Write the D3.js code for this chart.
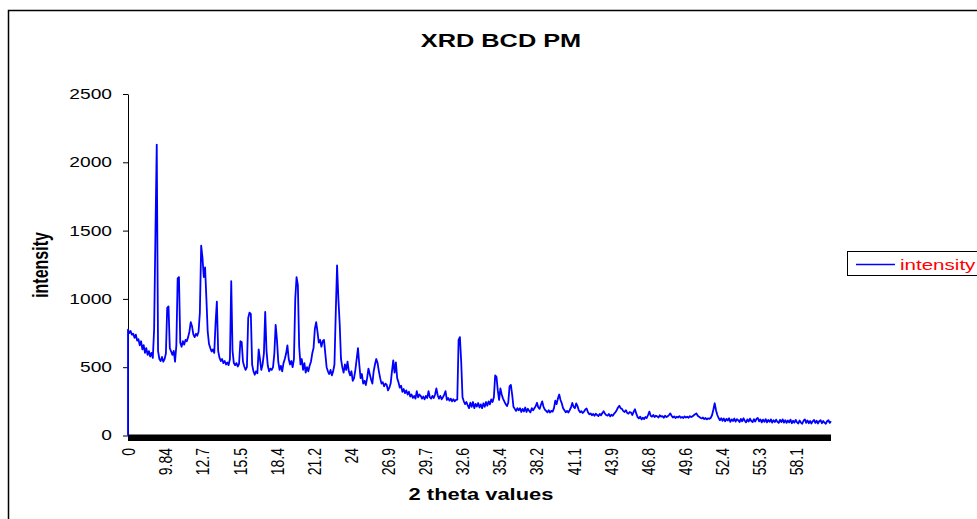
<!DOCTYPE html>
<html>
<head>
<meta charset="utf-8">
<script src="https://cdn.jsdelivr.net/npm/d3@7"></script>
<style>
  body { margin: 0; background: #fff; }
  svg { display: block; font-family: "Liberation Sans", Arial, sans-serif; }
</style>
</head>
<body>
<svg id="chart" width="977" height="519"></svg>
<script>
// Powder pattern of the BCD physical mixture, 2-theta scan in 0.1 degree steps.
const scanStart = 7.0;
const scanStep = 0.1;
// The exported sheet begins with a "0" row holding zero counts.
const leadRow = { label: "0", counts: 0 };

const intensity = [
  775, 750, 765, 738, 745, 715, 738, 695, 705, 660,     // 7.0
  690, 630, 662, 605, 640, 590, 618, 578, 605, 568,     // 8.0
  780, 1480, 2130, 620, 560, 545, 575, 540, 560, 600,   // 9.0
  935, 945, 640, 615, 590, 620, 540, 660, 1150, 1160,   // 10.0
  680, 650, 690, 665, 700, 690, 720, 760, 830, 800,     // 11.0
  740, 720, 745, 730, 760, 900, 1390, 1300, 1160, 1230, // 12.0
  1000, 760, 670, 640, 615, 630, 605, 820, 980, 620,    // 13.0
  570, 545, 560, 530, 545, 520, 535, 515, 560, 1130,    // 14.0
  620, 530, 515, 530, 505, 525, 690, 685, 540, 505,     // 15.0
  480, 500, 860, 900, 890, 520, 470, 445, 470, 455,     // 16.0
  630, 560, 480, 520, 600, 905, 620, 510, 470, 490,     // 17.0
  480, 500, 600, 810, 700, 540, 480, 510, 470, 530,     // 18.0
  560, 600, 660, 560, 520, 545, 500, 560, 1000, 1160,   // 19.0
  1100, 650, 520, 560, 480, 530, 460, 500, 470, 510,    // 20.0
  540, 600, 640, 780, 830, 760, 680, 700, 650, 690,     // 21.0
  700, 600, 500, 470, 450, 480, 440, 470, 520, 900,     // 22.0
  1245, 1000, 820, 560, 500, 460, 520, 480, 540, 470,   // 23.0
  440, 470, 400, 420, 480, 560, 640, 520, 420, 450,     // 24.0
  380, 400, 370, 420, 490, 450, 410, 380, 470, 520,     // 25.0
  560, 530, 470, 420, 380, 390, 360, 380, 370, 330,     // 26.0
  350, 380, 470, 550, 460, 535, 420, 390, 350, 365,     // 27.0
  320, 340, 310, 330, 300, 320, 285, 300, 275, 290,     // 28.0
  270, 325, 280, 300, 290, 270, 285, 265, 290, 275,     // 29.0
  325, 280, 270, 290, 275, 300, 345, 295, 270, 290,     // 30.0
  265, 280, 300, 325, 260, 275, 255, 270, 250, 265,     // 31.0
  250, 260, 262, 700, 720, 540, 280, 250, 230, 245,     // 32.0
  220, 200, 240, 210, 245, 200, 232, 212, 238, 205,     // 33.0
  228, 200, 236, 210, 245, 218, 250, 228, 265, 245,     // 34.0
  280, 440, 430, 330, 260, 345, 300, 270, 250, 230,     // 35.0
  215, 240, 360, 370, 300, 210, 195, 180, 200, 185,     // 36.0
  200, 172, 195, 176, 205, 172, 196, 180, 170, 200,     // 37.0
  185, 200, 215, 240, 205, 195, 225, 250, 210, 190,     // 38.0
  180, 170, 185, 168, 180, 175, 200, 255, 230, 270,     // 39.0
  300, 260, 235, 200, 185, 170, 180, 168, 185, 205,     // 40.0
  238, 210, 200, 235, 215, 185, 170, 178, 165, 175,     // 41.0
  190, 198, 170, 155, 162, 148, 158, 145, 160, 150,     // 42.0
  142, 158, 148, 165, 178, 160, 150, 145, 158, 140,     // 43.0
  152, 145, 160, 170, 185, 205, 218, 200, 195, 180,     // 44.0
  172, 185, 165, 160, 172, 168, 150, 175, 192, 160,     // 45.0
  135, 125, 138, 118, 130, 120, 135, 128, 150, 175,     // 46.0
  145, 138, 150, 135, 145, 140, 132, 148, 138, 142,     // 47.0
  130, 145, 135, 140, 150, 162, 145, 132, 140, 128,     // 48.0
  138, 132, 142, 130, 136, 128, 140, 132, 138, 130,     // 49.0
  142, 135, 140, 148, 155, 162, 145, 138, 130, 125,     // 50.0
  132, 120, 128, 118, 126, 122, 130, 150, 190, 236,     // 51.0
  185, 150, 128, 112, 126, 108, 124, 104, 122, 110,     // 52.0
  126, 100, 118, 106, 124, 102, 120, 112, 98, 122,      // 53.0
  104, 126, 108, 96, 118, 102, 124, 106, 98, 120,       // 54.0
  102, 122, 128, 104, 118, 96, 116, 100, 120, 96,       // 55.0
  114, 100, 118, 94, 112, 98, 116, 100, 92, 114,        // 56.0
  98, 118, 94, 112, 92, 110, 96, 116, 90, 108,          // 57.0
  94, 114, 96, 88, 110, 94, 86, 108, 118, 92,           // 58.0
  110, 90, 106, 88, 104, 114, 92, 108, 88, 104,         // 59.0
  112, 90, 106, 94, 86, 104, 112, 92, 104               // 60.0
];

const yTicks = [0, 500, 1000, 1500, 2000, 2500];
const xTickAngles = [7.0, 9.84, 12.68, 15.52, 18.36, 21.2, 24.04, 26.88, 29.72,
                     32.56, 35.4, 38.24, 41.08, 43.92, 46.76, 49.6, 52.44, 55.28, 58.12];
const xTickLabels = ["0", "9.84", "12.7", "15.5", "18.4", "21.2", "24", "26.9", "29.7",
                     "32.6", "35.4", "38.2", "41.1", "43.9", "46.8", "49.6", "52.4", "55.3", "58.1"];

const titleText = "XRD BCD PM";
const xTitle = "2 theta values";
const yTitle = "intensity";
const seriesName = "intensity";

// ---- layout ----
const plot = { left: 128, right: 831, top: 94, bottom: 435.5 };
const sx = 1.37; // horizontal glyph widening used throughout the sheet

const svg = d3.select("#chart");

const points = [{ angle: scanStart, counts: leadRow.counts }]
  .concat(intensity.map((v, i) => ({ angle: scanStart + i * scanStep, counts: v })));

const x = d3.scaleLinear()
  .domain([scanStart, scanStart + (intensity.length - 1) * scanStep])
  .range([plot.left, plot.right]);
const y = d3.scaleLinear().domain([0, 2500]).range([plot.bottom, plot.top]);

// outer frame
svg.append("rect")
  .attr("x", 8.5).attr("y", 10.5).attr("width", 1000).attr("height", 600)
  .attr("fill", "none").attr("stroke", "#000").attr("stroke-width", 1.5);

// title
svg.append("text")
  .attr("transform", `translate(501,47) scale(${sx},1)`)
  .attr("text-anchor", "middle")
  .attr("font-weight", "bold").attr("font-size", 18.5)
  .text(titleText);

// y axis
const yAxis = svg.append("g")
  .attr("transform", `translate(${plot.left},0)`)
  .call(d3.axisLeft(y).tickValues(yTicks).tickFormat(d3.format("d"))
    .tickSize(5).tickSizeOuter(0).tickPadding(11));
yAxis.select(".domain").attr("stroke", "#000");
yAxis.selectAll(".tick line").attr("stroke", "#000");
yAxis.selectAll(".tick text")
  .attr("font-size", 14).attr("fill", "#000")
  .attr("font-family", "Liberation Sans, Arial, sans-serif")
  .each(function () {
    const t = d3.select(this);
    const x0 = +t.attr("x");
    t.attr("transform", `translate(${x0},0) scale(${sx},1) translate(${-x0},0)`);
  });

// x axis: dense category ticks form a solid band under the plot
svg.append("rect")
  .attr("x", plot.left).attr("y", plot.bottom - 1)
  .attr("width", plot.right - plot.left).attr("height", 6.5)
  .attr("fill", "#000");

const xAxis = svg.append("g")
  .attr("transform", `translate(0,${plot.bottom})`)
  .call(d3.axisBottom(x).tickValues(xTickAngles)
    .tickFormat((d, i) => xTickLabels[i]).tickSize(0).tickSizeOuter(0));
xAxis.select(".domain").remove();
xAxis.selectAll(".tick text")
  .attr("font-size", 14).attr("fill", "#000")
  .attr("font-family", "Liberation Sans, Arial, sans-serif")
  .attr("x", 0).attr("y", 0).attr("dy", "0.35em")
  .attr("text-anchor", "end")
  .attr("transform", `translate(0,12.5) scale(${sx},1) rotate(-90)`);

// axis titles
svg.append("text")
  .attr("transform", `translate(481,500) scale(${sx},1)`)
  .attr("text-anchor", "middle")
  .attr("font-weight", "bold").attr("font-size", 16)
  .text(xTitle);

svg.append("text")
  .attr("transform", `translate(40,265) scale(${sx},1) rotate(-90)`)
  .attr("text-anchor", "middle").attr("dy", "0.35em")
  .attr("font-weight", "bold").attr("font-size", 16)
  .text(yTitle);

// series
const line = d3.line().x(d => x(d.angle)).y(d => y(d.counts));
svg.append("path")
  .datum(points)
  .attr("d", line)
  .attr("fill", "none")
  .attr("stroke", "#0000ff")
  .attr("stroke-width", 1.8)
  .attr("stroke-linejoin", "round");

// legend
const lg = svg.append("g");
lg.append("rect")
  .attr("x", 847.5).attr("y", 251.5).attr("width", 200).attr("height", 24)
  .attr("fill", "#fff").attr("stroke", "#000").attr("stroke-width", 1);
lg.append("line")
  .attr("x1", 856).attr("x2", 895).attr("y1", 264.5).attr("y2", 264.5)
  .attr("stroke", "#0000ff").attr("stroke-width", 1.5);
lg.append("text")
  .attr("transform", `translate(900,269.5) scale(${sx},1)`)
  .attr("font-size", 15).attr("fill", "#ff0000")
  .text(seriesName);
</script>
</body>
</html>
